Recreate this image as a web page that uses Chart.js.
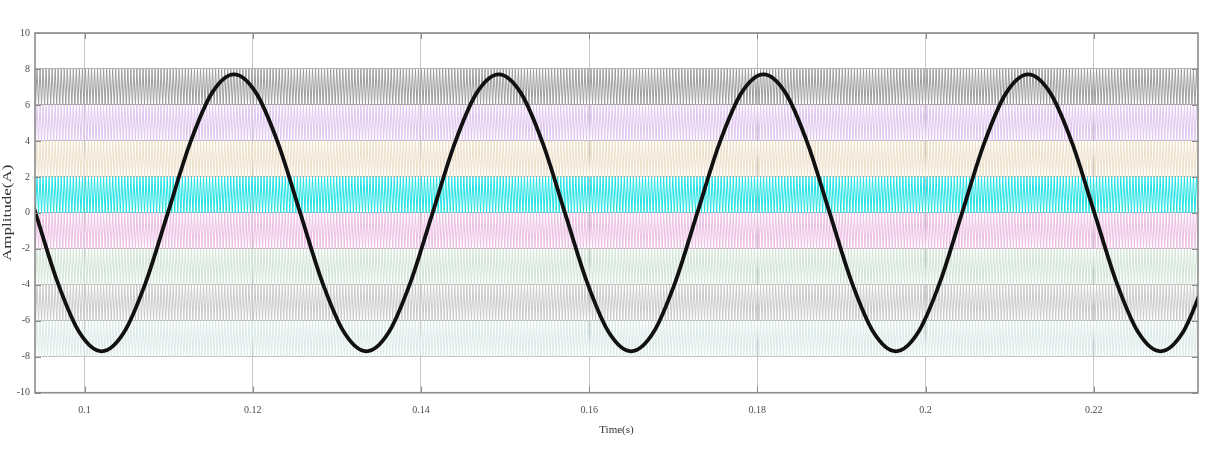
<!DOCTYPE html>
<html>
<head>
<meta charset="utf-8">
<script src="https://cdn.jsdelivr.net/npm/chart.js@4.4.1/dist/chart.umd.min.js"></script>
<style>
  html, body { margin: 0; padding: 0; background: #fff; }
</style>
</head>
<body>
<canvas id="chart" width="1213" height="452"></canvas>
<script>
// reference current (12 points per cycle)
const sineTime = [
  0.09154, 0.09416, 0.09678, 0.09941, 0.10203, 0.10465, 0.10728,
  0.10990, 0.11252, 0.11515, 0.11777, 0.12039, 0.12302, 0.12564, 0.12826, 0.13089, 0.13351, 0.13613, 0.13876,
  0.14138, 0.14400, 0.14663, 0.14925, 0.15187, 0.15450, 0.15712, 0.15974, 0.16237, 0.16499, 0.16761, 0.17024,
  0.17286, 0.17548, 0.17811, 0.18073, 0.18335, 0.18598, 0.18860, 0.19122, 0.19385, 0.19647, 0.19909, 0.20172,
  0.20434, 0.20696, 0.20959, 0.21221, 0.21483, 0.21746, 0.22008, 0.22270, 0.22533, 0.22795, 0.23057, 0.23320
];
const sineAmp = [
  3.85, 0, -3.85, -6.67, -7.7, -6.67, -3.85,
  0, 3.85, 6.67, 7.7, 6.67, 3.85, 0, -3.85, -6.67, -7.7, -6.67, -3.85,
  0, 3.85, 6.67, 7.7, 6.67, 3.85, 0, -3.85, -6.67, -7.7, -6.67, -3.85,
  0, 3.85, 6.67, 7.7, 6.67, 3.85, 0, -3.85, -6.67, -7.7, -6.67, -3.85,
  0, 3.85, 6.67, 7.7, 6.67, 3.85, 0, -3.85, -6.67, -7.7, -6.67, -3.85
];

// level-shifted triangular carriers
const bandLow  = [6, 4, 2, 0, -2, -4, -6, -8];
const bandHigh = [8, 6, 4, 2, 0, -2, -4, -6];
const bandColor = ['#9d9d9d', '#e0c6ef', '#eedfc8', '#22e2e4', '#ecbfe4', '#d2e4d6', '#cacaca', '#dbeae8'];
const carrierPeriod = 0.00036;
const carrierStart = 0.0938;
const carrierEnd = 0.2328;

const xTicks = [0.1, 0.12, 0.14, 0.16, 0.18, 0.2, 0.22];
const yTicks = [-10, -8, -6, -4, -2, 0, 2, 4, 6, 8, 10];
const yTitle = 'Amplitude(A)';

const sinePoints = sineTime.map((t, i) => ({ x: t, y: sineAmp[i] }));

const carrierSets = bandLow.map((lo, b) => {
  const pts = [];
  let k = 0;
  for (let t = carrierStart; t <= carrierEnd; t += carrierPeriod / 2) {
    pts.push({ x: t, y: k % 2 === 0 ? lo : bandHigh[b] });
    k++;
  }
  return {
    data: pts,
    borderColor: bandColor[b],
    borderWidth: 1,
    borderJoinStyle: 'bevel',
    pointRadius: 0,
    tension: 0
  };
});

const frame = {
  id: 'frame',
  afterDraw(chart) {
    const { ctx, chartArea: a, scales: { x, y } } = chart;
    ctx.save();
    ctx.strokeStyle = '#8a8a8a';
    ctx.lineWidth = 1;
    ctx.beginPath();
    yTicks.forEach(v => {
      const py = Math.round(y.getPixelForValue(v)) + 0.5;
      ctx.moveTo(a.left, py); ctx.lineTo(a.left + 6, py);
      ctx.moveTo(a.right - 6, py); ctx.lineTo(a.right, py);
    });
    xTicks.forEach(v => {
      const px = Math.round(x.getPixelForValue(v)) + 0.5;
      ctx.moveTo(px, a.bottom); ctx.lineTo(px, a.bottom - 6);
      ctx.moveTo(px, a.top); ctx.lineTo(px, a.top + 6);
    });
    ctx.stroke();
    ctx.lineWidth = 1.6;
    ctx.strokeStyle = '#8c8c8c';
    ctx.strokeRect(a.left, a.top, a.right - a.left, a.bottom - a.top);

    // y title, stretched along its length like the source image
    ctx.translate(8, (a.top + a.bottom) / 2);
    ctx.rotate(-Math.PI / 2);
    ctx.scale(1.42, 1);
    ctx.font = '12px "Liberation Serif"';
    ctx.fillStyle = '#333';
    ctx.textAlign = 'center';
    ctx.textBaseline = 'middle';
    ctx.fillText(yTitle, 0, 0);
    ctx.restore();
  }
};

const tickFont = { family: 'Liberation Serif', size: 10 };

new Chart(document.getElementById('chart'), {
  type: 'line',
  data: {
    datasets: [{
      data: sinePoints,
      borderColor: '#111111',
      borderWidth: 3.8,
      pointRadius: 0,
      cubicInterpolationMode: 'monotone',
      tension: 0.4
    }].concat(carrierSets)
  },
  options: {
    responsive: false,
    animation: false,
    events: [],
    layout: { padding: { top: 33, right: 15, left: 0, bottom: 0 } },
    plugins: { legend: { display: false }, tooltip: { enabled: false } },
    scales: {
      x: {
        type: 'linear',
        min: 0.0941,
        max: 0.2324,
        afterBuildTicks: s => { s.ticks = xTicks.map(v => ({ value: v })); },
        afterFit: s => { s.height = 59.3; },
        grid: { color: '#c6c6c6', lineWidth: 1, drawTicks: false },
        border: { display: false },
        ticks: {
          padding: 12,
          color: '#4a4a4a',
          font: tickFont,
          maxRotation: 0,
          callback: v => String(+v.toFixed(2))
        },
        title: {
          display: true,
          text: 'Time(s)',
          color: '#333',
          font: { family: 'Liberation Serif', size: 11 },
          padding: { top: 0, bottom: 15 }
        }
      },
      y: {
        min: -10,
        max: 10,
        afterBuildTicks: s => { s.ticks = yTicks.map(v => ({ value: v })); },
        afterFit: s => { s.width = 35; },
        grid: { color: '#b2b2b2', lineWidth: 1, drawTicks: false },
        border: { display: false },
        ticks: {
          padding: 5,
          color: '#4a4a4a',
          font: tickFont,
          callback: v => String(v)
        },
        title: { display: false }
      }
    }
  },
  plugins: [frame]
});
</script>
</body>
</html>
